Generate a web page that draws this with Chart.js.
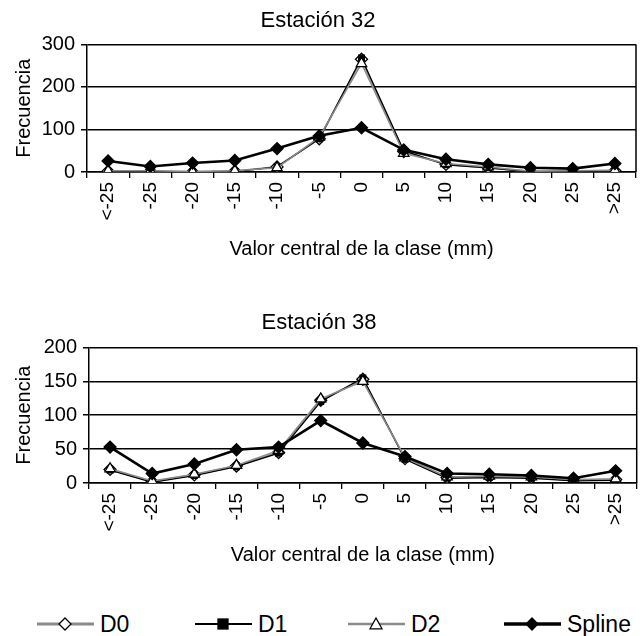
<!DOCTYPE html>
<html>
<head>
<meta charset="utf-8">
<script src="https://cdn.jsdelivr.net/npm/chart.js@4"></script>
<style>
  body { margin: 0; background: #fff; font-family: 'Liberation Sans', Arial, sans-serif; }
  #wrap { position: relative; width: 644px; height: 636px; }
  canvas { position: absolute; left: 0; }
  #c32 { top: 0; }
  #c38 { top: 295px; }
  #legend { position: absolute; top: 610px; left: 0; width: 644px; height: 28px; font-size: 23px; color: #000; }
  .item { position: absolute; top: 0; height: 28px; display: flex; align-items: center; }
  .item svg { margin-right: 6px; }
</style>
</head>
<body>
<div id="wrap">
  <canvas id="c32" width="644" height="265"></canvas>
  <canvas id="c38" width="644" height="275"></canvas>
  <div id="legend"></div>
</div>
<script>
// Class centres shared by both stations
const categories = ['<-25', '-25', '-20', '-15', '-10', '-5', '0', '5', '10', '15', '20', '25', '>25'];

// Estación 32
const est32_D0     = [2, 2, 0, 2, 12, 78, 265, 48, 18, 10, 1, 2, 3];
const est32_D1     = [1, 1, 0, 1, 12, 78, 268, 50, 17, 10, 0, 1, 2];
const est32_D2     = [3, 3, 1, 3, 10, 82, 255, 44, 20, 12, 2, 3, 4];
const est32_Spline = [26, 13, 21, 27, 55, 85, 104, 52, 30, 18, 10, 8, 20];

// Estación 38
const est38_D0     = [20, 2, 12, 25, 45, 122, 153, 36, 8, 9, 8, 4, 5];
const est38_D1     = [19, 1, 11, 24, 44, 120, 155, 35, 7, 8, 7, 3, 4];
const est38_D2     = [21, 3, 13, 26, 48, 124, 150, 37, 9, 10, 9, 5, 6];
const est38_Spline = [53, 14, 28, 49, 53, 92, 59, 39, 14, 13, 11, 7, 18];

const yMax32 = 300, yMax38 = 200, yStep = 50;
const FONT = "'Liberation Sans', Arial, sans-serif";

// Look of each series (same in both charts and in the legend)
const seriesStyle = {
    D0:     { color: '#8a8a8a', width: 2,   point: 'rectRot',  radius: 6, fill: '#fff', order: 3 },
    D1:     { color: '#000',    width: 1.3, point: 'rect',     radius: 4, fill: '#000', order: 2 },
    D2:     { color: '#8a8a8a', width: 1.5, point: 'triangle', radius: 6, fill: '#fff', order: 1 },
    Spline: { color: '#000',    width: 2.6, point: 'rectRot',  radius: 6, fill: '#000', order: 0 }
};

function makeDataset(label, values) {
    const s = seriesStyle[label];
    return {
        label: label,
        data: values,
        borderColor: s.color,
        borderWidth: s.width,
        pointStyle: s.point,
        pointRadius: s.radius,
        pointBackgroundColor: s.fill,
        pointBorderColor: '#000',
        pointBorderWidth: 1.3,
        order: s.order,
        tension: 0
    };
}

// Draw the right-hand edge of the plot frame
const framePlugin = {
    id: 'frame',
    afterDraw(chart) {
        const a = chart.chartArea, ctx = chart.ctx;
        ctx.save();
        ctx.strokeStyle = '#000';
        ctx.lineWidth = 1.5;
        ctx.beginPath();
        ctx.moveTo(a.right, a.top);
        ctx.lineTo(a.right, a.bottom);
        ctx.stroke();
        ctx.restore();
    }
};

function drawStation(canvasId, title, yMax, series, opts) {
    new Chart(document.getElementById(canvasId), {
        type: 'line',
        data: {
            labels: categories,
            datasets: Object.keys(series).map(k => makeDataset(k, series[k]))
        },
        plugins: [framePlugin],
        options: {
            responsive: false,
            animation: false,
            layout: { padding: { left: 0, right: opts.padRight, top: 0, bottom: 0 } },
            plugins: {
                legend: { display: false },
                tooltip: { enabled: false },
                title: {
                    display: true, text: title, color: '#000',
                    font: { family: FONT, size: 22, weight: 'normal' },
                    padding: { top: opts.titleTop, bottom: opts.titleBottom }
                }
            },
            scales: {
                x: {
                    offset: true,
                    afterFit(scale) { scale.height = opts.xHeight; },
                    grid: { offset: true, drawOnChartArea: false, drawTicks: true, tickLength: 6, color: '#000', lineWidth: 1.3 },
                    border: { display: true, color: '#000', width: 1.5 },
                    ticks: { minRotation: 90, maxRotation: 90, padding: 4, color: '#000', autoSkip: false,
                             font: { family: FONT, size: 19 } },
                    title: { display: true, text: 'Valor central de la clase (mm)', color: '#000',
                             font: { family: FONT, size: 20 }, padding: { top: 4, bottom: opts.xTitleBottom } }
                },
                y: {
                    min: 0, max: yMax,
                    afterFit(scale) { scale.width = opts.yWidth; },
                    grid: { color: '#000', lineWidth: 1.5, tickLength: 6 },
                    border: { display: true, color: '#000', width: 1.5 },
                    ticks: { stepSize: yStep, padding: 6, color: '#000', font: { family: FONT, size: 20 } },
                    title: { display: true, text: 'Frecuencia', color: '#000',
                             font: { family: FONT, size: 20 }, padding: { top: 12, bottom: 4 } }
                }
            }
        }
    });
}

drawStation('c32', 'Estación 32', yMax32,
    { D0: est32_D0, D1: est32_D1, D2: est32_D2, Spline: est32_Spline },
    { padRight: 8, titleTop: 8, titleBottom: 10, xHeight: 93, xTitleBottom: 4, yWidth: 87 });

drawStation('c38', 'Estación 38', yMax38,
    { D0: est38_D0, D1: est38_D1, D2: est38_D2, Spline: est38_Spline },
    { padRight: 6, titleTop: 15, titleBottom: 11, xHeight: 87, xTitleBottom: 3, yWidth: 89 });

// Shared legend below the two charts: line with marker, then the label
function markerSvg(s) {
    const w = 57, cx = 28, cy = 14, r = s.radius;
    let shape = '';
    if (s.point === 'rectRot') {
        shape = `<polygon points="${cx},${cy - r} ${cx + r},${cy} ${cx},${cy + r} ${cx - r},${cy}" fill="${s.fill}" stroke="#000" stroke-width="1.3"/>`;
    } else if (s.point === 'rect') {
        shape = `<rect x="${cx - r - 1}" y="${cy - r - 1}" width="${2 * r + 2}" height="${2 * r + 2}" fill="${s.fill}" stroke="#000" stroke-width="1.3"/>`;
    } else {
        shape = `<polygon points="${cx},${cy - r} ${cx + r},${cy + r * 0.8} ${cx - r},${cy + r * 0.8}" fill="${s.fill}" stroke="#000" stroke-width="1.3"/>`;
    }
    return `<svg width="${w}" height="28"><line x1="0" y1="${cy}" x2="${w}" y2="${cy}" stroke="${s.color}" stroke-width="${s.width + 0.8}"/>${shape}</svg>`;
}

const legendX = { D0: 37, D1: 195, D2: 348, Spline: 504 };
const legend = document.getElementById('legend');
Object.keys(seriesStyle).forEach(k => {
    const div = document.createElement('div');
    div.className = 'item';
    div.style.left = legendX[k] + 'px';
    div.innerHTML = markerSvg(seriesStyle[k]) + '<span>' + k + '</span>';
    legend.appendChild(div);
});
</script>
</body>
</html>
